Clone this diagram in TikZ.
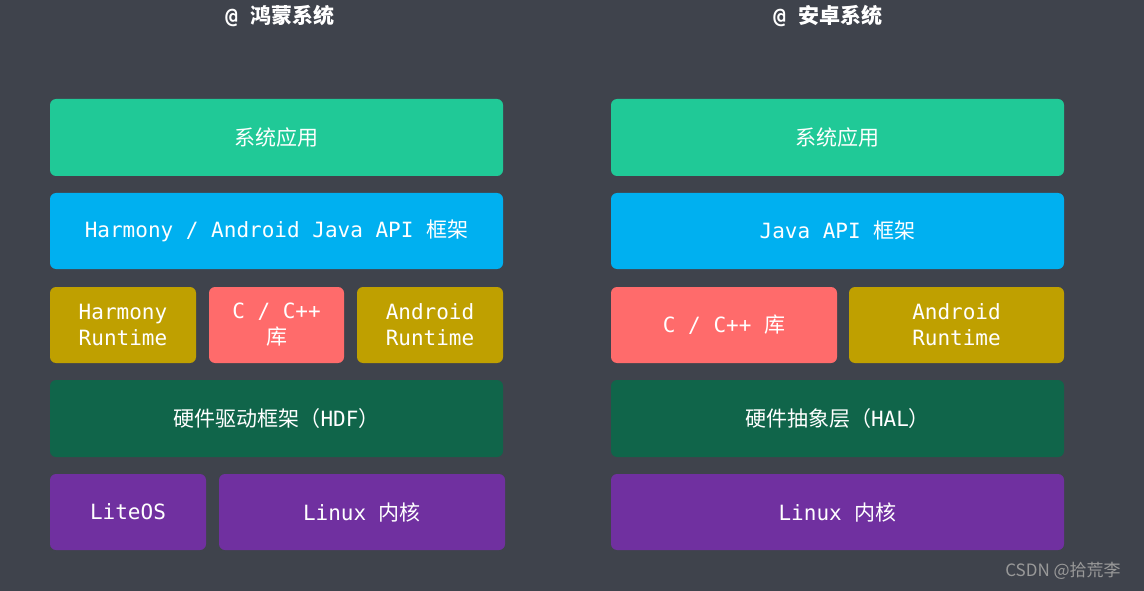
\documentclass[tikz,border=0pt]{standalone}
\usepackage{fontspec}
\setmainfont{DejaVu Sans Mono}
\newfontfamily\cjk{Noto Sans CJK SC}
\begin{document}
\begin{tikzpicture}[x=1pt,y=-1pt,
  blk/.style={rounded corners=6pt,text=white,font=\fontsize{21}{26}\selectfont,align=center},
  ttl/.style={text=white,font=\bfseries\fontsize{21}{26}\selectfont}]
\definecolor{bg}{HTML}{3F434C}
\definecolor{cg}{HTML}{20C997}
\definecolor{cb}{HTML}{00B0F0}
\definecolor{co}{HTML}{BFA000}
\definecolor{cr}{HTML}{FF6B6B}
\definecolor{cd}{HTML}{10654A}
\definecolor{cp}{HTML}{7030A0}
\fill[bg] (0,0) rectangle (1144,591);
\useasboundingbox (0,0) rectangle (1144,591);
\newcommand\bx[7]{\fill[#6,rounded corners=6pt] (#2,#3) rectangle (#4,#5);
  \node[blk] (#1) at ({(#2+#4)/2},{(#3+#5)/2}) {#7};}
\node[ttl] (t1) at (280,16) {@ {\cjk 鸿蒙系统}};
\node[ttl] (t2) at (828,16) {@ {\cjk 安卓系统}};
\bx{a1}{50}{99}{503}{176}{cg}{\cjk 系统应用}
\bx{a2}{50}{193}{503}{269}{cb}{Harmony / Android Java API {\cjk 框架}}
\bx{a3}{50}{287}{196}{363}{co}{Harmony\\Runtime}
\bx{a4}{209}{287}{344}{363}{cr}{C / C++\\{\cjk 库}}
\bx{a5}{357}{287}{503}{363}{co}{Android\\Runtime}
\bx{a6}{50}{380}{503}{457}{cd}{{\cjk 硬件驱动框架（}HDF{\cjk ）}}
\bx{a7}{50}{474}{206}{550}{cp}{LiteOS}
\bx{a8}{219}{474}{505}{550}{cp}{Linux {\cjk 内核}}
\bx{b1}{611}{99}{1064}{176}{cg}{\cjk 系统应用}
\bx{b2}{611}{193}{1064}{269}{cb}{Java API {\cjk 框架}}
\bx{b3}{611}{287}{837}{363}{cr}{C / C++ {\cjk 库}}
\bx{b4}{849}{287}{1064}{363}{co}{Android\\Runtime}
\bx{b5}{611}{380}{1064}{457}{cd}{{\cjk 硬件抽象层（}HAL{\cjk ）}}
\bx{b6}{611}{474}{1064}{550}{cp}{Linux {\cjk 内核}}
\node[text=gray!80,font=\cjk\fontsize{17}{20}\selectfont] (wm) at (1063,571) {CSDN @拾荒李};
\end{tikzpicture}
\end{document}
